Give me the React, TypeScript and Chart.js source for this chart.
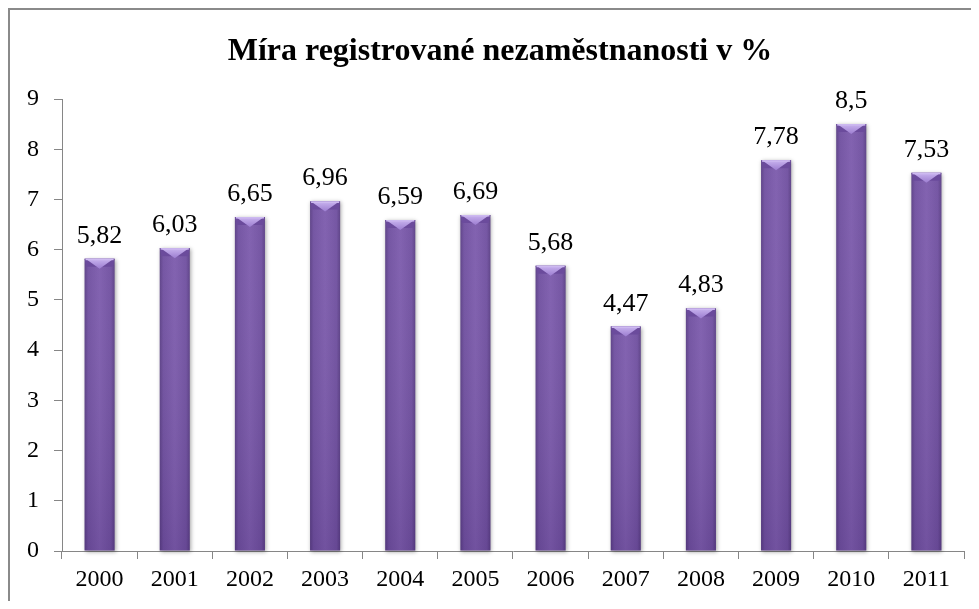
import React, { useEffect, useRef } from "react";
import { Chart, registerables } from "chart.js";

Chart.register(...registerables);

const TITLE = "Míra registrované nezaměstnanosti v %";
const YEARS = ["2000", "2001", "2002", "2003", "2004", "2005", "2006", "2007", "2008", "2009", "2010", "2011"];
const RATES = [5.82, 6.03, 6.65, 6.96, 6.59, 6.69, 5.68, 4.47, 4.83, 7.78, 8.5, 7.53];
const Y_MIN = 0;
const Y_MAX = 9;
const Y_STEP = 1;

const FONT = "'Liberation Serif', 'Times New Roman', serif";

const titlePlugin = {
  id: "manualTitle",
  afterDraw(chart: any) {
    const ctx = chart.ctx;
    ctx.save();
    ctx.font = `bold 32px ${FONT}`;
    ctx.fillStyle = "#000";
    ctx.textAlign = "center";
    ctx.textBaseline = "alphabetic";
    ctx.fillText(TITLE, 490, 50);
    ctx.restore();
  },
};

const barPlugin = {
  id: "bevelBars",
  afterDatasetsDraw(chart: any) {
    const ctx = chart.ctx;
    const meta = chart.getDatasetMeta(0);
    meta.data.forEach((el: any, i: number) => {
      const { x, y, base, width } = el.getProps(["x", "y", "base", "width"], true);
      const x0 = x - width / 2;
      const x1 = x + width / 2;
      const top = Math.min(y, base);
      const h = Math.abs(base - y);
      ctx.save();
      ctx.shadowColor = "rgba(0,0,0,0.35)";
      ctx.shadowBlur = 4;
      ctx.shadowOffsetX = 1;
      ctx.shadowOffsetY = 1;
      const g = ctx.createLinearGradient(x0, 0, x1, 0);
      g.addColorStop(0, "#5a3e85");
      g.addColorStop(0.12, "#7050a0");
      g.addColorStop(0.5, "#7d5cad");
      g.addColorStop(0.88, "#7050a0");
      g.addColorStop(1, "#5a3e85");
      ctx.fillStyle = g;
      ctx.fillRect(x0, top, width, h);
      ctx.restore();
      ctx.save();
      const gv = ctx.createLinearGradient(0, top, 0, base);
      gv.addColorStop(0, "rgba(255,255,255,0.04)");
      gv.addColorStop(1, "rgba(30,10,60,0.12)");
      ctx.fillStyle = gv;
      ctx.fillRect(x0, top, width, h);
      // bevel sides
      ctx.fillStyle = "#6b4b9c";
      ctx.beginPath();
      ctx.moveTo(x0, top);
      ctx.lineTo(x1, top);
      ctx.lineTo(x1 - 2, top + 8);
      ctx.lineTo(x0 + 2, top + 8);
      ctx.closePath();
      ctx.fill();
      // bevel centre triangle
      const gb = ctx.createLinearGradient(0, top, 0, top + 10);
      gb.addColorStop(0, "#c9b4ef");
      gb.addColorStop(1, "#9c7dd0");
      ctx.fillStyle = gb;
      ctx.beginPath();
      ctx.moveTo(x0 + 1, top);
      ctx.lineTo(x1 - 1, top);
      ctx.lineTo(x, top + 10);
      ctx.closePath();
      ctx.fill();
      ctx.fillStyle = "#cdb9f0";
      ctx.fillRect(x0 + 1, top, width - 2, 1.5);
      ctx.restore();
      // value label
      ctx.save();
      ctx.font = `26px ${FONT}`;
      ctx.fillStyle = "#000";
      ctx.textAlign = "center";
      ctx.textBaseline = "alphabetic";
      ctx.fillText(String(RATES[i]).replace(".", ","), x, top - 16);
      ctx.restore();
    });
  },
};

export default function App() {
  const ref = useRef<HTMLCanvasElement>(null);
  useEffect(() => {
    if (!ref.current) return;
    const chart = new Chart(ref.current, {
      type: "bar",
      data: {
        labels: YEARS,
        datasets: [
          {
            data: RATES,
            backgroundColor: "rgba(0,0,0,0)",
            borderWidth: 0,
            barPercentage: 0.4,
            categoryPercentage: 1,
          },
        ],
      },
      options: {
        animation: false,
        responsive: false,
        layout: { padding: { left: 0, right: 15, top: 89, bottom: 0 } },
        plugins: {
          legend: { display: false },
          tooltip: { enabled: false },
          title: { display: false },
        },
        scales: {
          x: {
            afterFit: (s: any) => {
              s.height = 50;
            },
            grid: {
              drawOnChartArea: false,
              offset: true,
              tickLength: 8,
              color: "#868686",
            },
            border: { color: "#868686", width: 1 },
            ticks: {
              color: "#000",
              font: { family: FONT, size: 24 },
              padding: 6,
              maxRotation: 0,
            },
          },
          y: {
            min: Y_MIN,
            max: Y_MAX,
            afterFit: (s: any) => {
              s.width = 52;
            },
            grid: {
              drawOnChartArea: false,
              tickLength: 8,
              color: "#868686",
            },
            border: { color: "#868686", width: 1 },
            ticks: {
              stepSize: Y_STEP,
              color: "#000",
              font: { family: FONT, size: 24 },
              padding: 15,
            },
          },
        },
      },
      plugins: [barPlugin, titlePlugin],
    });
    return () => chart.destroy();
  }, []);
  return (
    <div
      style={{
        width: 969,
        height: 591,
        borderTop: "2px solid #8a8a8a",
        borderLeft: "2px solid #8a8a8a",
        overflow: "hidden",
      }}
    >
      <canvas ref={ref} width={969} height={591} style={{ display: "block" }} />
    </div>
  );
}
